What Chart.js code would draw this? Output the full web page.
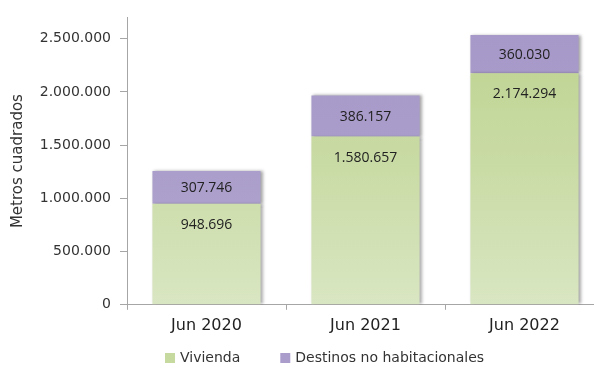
<!DOCTYPE html>
<html>
<head>
<meta charset="utf-8">
<script src="https://cdn.jsdelivr.net/npm/chart.js@4/dist/chart.umd.min.js"></script>
<style>
  html, body { margin: 0; padding: 0; background: #fff; overflow: hidden; }
  #wrap { width: 606px; height: 370px; position: relative; }
</style>
</head>
<body>
<div id="wrap"><canvas id="grafico"></canvas></div>
<script>
// Datos: superficie en metros cuadrados por periodo
const periodos = ["Jun 2020", "Jun 2021", "Jun 2022"];
const vivienda = [948696, 1580657, 2174294];
const noHabitacional = [307746, 386157, 360030];
const nombresSeries = ["Vivienda", "Destinos no habitacionales"];
const coloresSeries = ["#c6d99f", "#aa9dcb"];
const marcasEjeY = [0, 500000, 1000000, 1500000, 2000000, 2500000];

const TEXTO = "#333333";
const EJE = "#a6a6a6";

// 2.500.000 con puntos de miles
function formatoMiles(n) {
    return String(Math.round(n)).replace(/\B(?=(\d{3})+(?!\d))/g, ".");
}

// Degradado vertical sobre el área del gráfico
function degradado(chart, abajo, medio, arriba) {
    const area = chart.chartArea;
    if (!area) return medio;
    const g = chart.ctx.createLinearGradient(0, area.bottom, 0, area.top);
    g.addColorStop(0, abajo);
    g.addColorStop(0.5, medio);
    g.addColorStop(1, arriba);
    return g;
}

// Sombra suave a la derecha de cada barra
const sombraBarras = {
    id: "sombraBarras",
    beforeDatasetsDraw(chart) {
        const ctx = chart.ctx;
        ctx.save();
        ctx.shadowColor = "rgba(0,0,0,0.35)";
        ctx.shadowBlur = 3;
        ctx.shadowOffsetX = 2;
        ctx.shadowOffsetY = 0;
    },
    afterDatasetsDraw(chart) {
        chart.ctx.restore();
    }
};

// Etiquetas de valor dentro de cada segmento
const etiquetasValor = {
    id: "etiquetasValor",
    afterDatasetsDraw(chart) {
        const ctx = chart.ctx;
        ctx.save();
        ctx.font = "14px 'Open Sans'";
        ctx.fillStyle = "#222";
        ctx.textAlign = "center";
        ctx.textBaseline = "middle";
        chart.data.datasets.forEach((ds, i) => {
            const meta = chart.getDatasetMeta(i);
            meta.data.forEach((bar, j) => {
                const texto = formatoMiles(ds.data[j]);
                if (i === 0) {
                    ctx.fillText(texto, bar.x, bar.y + 21);
                } else {
                    ctx.fillText(texto, bar.x, (bar.y + bar.base) / 2 + 1);
                }
            });
        });
        ctx.restore();
    }
};

// Leyenda bajo el eje de categorías
const leyenda = {
    id: "leyenda",
    afterDraw(chart) {
        const ctx = chart.ctx;
        const area = chart.chartArea;
        const y = 358;
        const lado = 10;
        let x = area.left + 38;
        ctx.save();
        ctx.font = "14px 'DejaVu Sans'";
        ctx.textBaseline = "middle";
        ctx.textAlign = "left";
        chart.data.datasets.forEach((ds, i) => {
            ctx.fillStyle = coloresSeries[i];
            ctx.fillRect(x, y - lado / 2, lado, lado);
            ctx.fillStyle = TEXTO;
            ctx.fillText(ds.label, x + lado + 5, y);
            x += lado + 5 + ctx.measureText(ds.label).width + 40;
        });
        ctx.restore();
    }
};

new Chart(document.getElementById("grafico"), {
    type: "bar",
    data: {
        labels: periodos,
        datasets: [
            {
                label: nombresSeries[0],
                data: vivienda,
                backgroundColor: (c) => degradado(c.chart, "#d9e6c2", "#c9dba4", "#bdd28f"),
                borderWidth: 0
            },
            {
                label: nombresSeries[1],
                data: noHabitacional,
                backgroundColor: (c) => degradado(c.chart, "#b3a8d1", "#aa9dcb", "#a698c8"),
                borderWidth: 0
            }
        ]
    },
    options: {
        responsive: true,
        maintainAspectRatio: false,
        animation: false,
        layout: { padding: { top: 15, right: 2, bottom: 29, left: 0 } },
        plugins: {
            legend: { display: false },
            tooltip: { enabled: false }
        },
        datasets: {
            bar: { categoryPercentage: 1, barPercentage: 0.68 }
        },
        scales: {
            x: {
                stacked: true,
                grid: { drawOnChartArea: false, tickLength: 5, color: EJE },
                border: { color: EJE },
                ticks: {
                    color: "#222",
                    padding: 6,
                    font: { family: "'DejaVu Sans'", size: 16 }
                }
            },
            y: {
                stacked: true,
                min: 0,
                max: 2700000,
                afterBuildTicks(scale) {
                    scale.ticks = marcasEjeY.map(v => ({ value: v }));
                },
                afterFit(scale) {
                    scale.width = 127;
                },
                grid: { drawOnChartArea: false, tickLength: 7, color: EJE },
                border: { color: EJE },
                ticks: {
                    color: TEXTO,
                    padding: 9,
                    autoSkip: false,
                    font: { family: "'DejaVu Sans'", size: 14 },
                    callback: (v) => formatoMiles(v)
                },
                title: {
                    display: true,
                    text: "Metros cuadrados",
                    color: TEXTO,
                    padding: { top: 9, bottom: 0 },
                    font: { family: "'DejaVu Sans'", size: 15 }
                }
            }
        }
    },
    plugins: [sombraBarras, etiquetasValor, leyenda]
});
</script>
</body>
</html>
